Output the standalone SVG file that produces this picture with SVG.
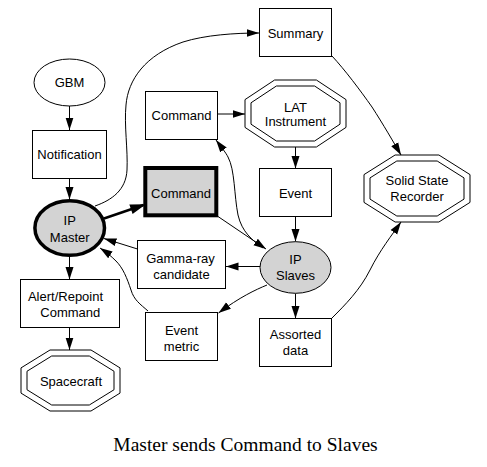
<svg xmlns="http://www.w3.org/2000/svg" width="487" height="467" viewBox="0 0 487 467">
<style>
.n{fill:#fff;stroke:#000;stroke-width:1}
.g{fill:#d3d3d3;stroke:#000;stroke-width:1}
.t{font-family:"Liberation Sans",Arial,Helvetica,sans-serif;font-size:13px;fill:#000;text-anchor:middle}
.e{fill:none;stroke:#000;stroke-width:1;marker-end:url(#ah)}
.cap{font-family:"Liberation Serif","Times New Roman",serif;font-size:19.5px;fill:#000;text-anchor:middle}
</style>
<defs>
<marker id="ah" markerUnits="userSpaceOnUse" markerWidth="13" markerHeight="9" refX="12.5" refY="4.5" orient="auto">
<path d="M0,0.5 L12.5,4.5 L0,8.5 z" fill="#000"/>
</marker>
<marker id="ahb" markerUnits="userSpaceOnUse" markerWidth="15" markerHeight="11" refX="13.5" refY="5.5" orient="auto">
<path d="M1,1.5 L13.5,5.5 L1,9.5 z" fill="#000" stroke="#000" stroke-width="1.5"/>
</marker>
</defs>
<rect width="487" height="467" fill="#fff"/>
<g id="connectors">
<path class="e" d="M69.5,106 L69.5,130"/>
<path class="e" d="M69.5,178.5 L69.5,199.5"/>
<path d="M104,218.5 L143.5,205" fill="none" stroke="#000" stroke-width="2.5" marker-end="url(#ahb)"/>
<path class="e" d="M95,206 C112,200 126,190 127,170 C128,150 124,125 126,105 C128,80 145,55 183,42 C205,35 235,33 259,33"/>
<path class="e" d="M217.5,114 L245,114"/>
<path class="e" d="M295.5,147 L295.5,168.5"/>
<path class="e" d="M295.5,216.5 L295.5,241.5"/>
<path class="e" d="M263,248 C252,240 242,232 238,215 C234,195 235,170 228,157 C226,153 222,148 216,140"/>
<path class="e" d="M218,216.5 L266,249"/>
<path class="e" d="M260,266.5 L226,266.5"/>
<path class="e" d="M137.5,249 L104,238.5"/>
<path class="e" d="M148,311 C140,304 134,300 131,290 C127,278 123,268 116,261 C111,256 106,252 100,248"/>
<path class="e" d="M267,285 C255,290 240,297 218.5,313"/>
<path class="e" d="M295.5,293.5 L295.5,318.5"/>
<path class="e" d="M332,318 C345,305 360,290 370,270 C380,250 392,235 401,222"/>
<path class="e" d="M332,56 C345,70 360,90 372,107 C383,124 394,143 401,155"/>
<path class="e" d="M69.5,257 L69.5,279.5"/>
<path class="e" d="M69.5,328 L69.5,350"/>
</g>
<g id="gbm">
<ellipse class="n" cx="69.5" cy="82.5" rx="35.5" ry="23.5"/>
<text class="t" x="69.5" y="87">GBM</text>
</g>
<g id="notification">
<rect class="n" x="32.5" y="130.5" width="74" height="48"/>
<text class="t" x="69.5" y="159">Notification</text>
</g>
<g id="ip-master">
<ellipse cx="69.7" cy="228" rx="34.8" ry="27.3" fill="#d3d3d3" stroke="#000" stroke-width="3.5"/>
<text class="t" x="69.7" y="225">IP</text>
<text class="t" x="69.7" y="241.5">Master</text>
</g>
<g id="alert">
<rect class="n" x="20.5" y="279.5" width="99" height="48"/>
<text class="t" x="65.5" y="301">Alert/Repoint</text>
<text class="t" x="70.3" y="316.5">Command</text>
</g>
<g id="spacecraft">
<polygon class="n" points="50,350 91,350 120,367.9 120,393.1 91,411 50,411 21,393.1 21,367.9"/>
<polygon class="n" points="51.7,356 89.3,356 114,371.25 114,389.75 89.3,405 51.7,405 27,389.75 27,371.25"/>
<text class="t" x="71" y="385.7">Spacecraft</text>
</g>
<g id="summary">
<rect class="n" x="259.5" y="8.5" width="72" height="48"/>
<text class="t" x="295.5" y="37.5">Summary</text>
</g>
<g id="command-upper">
<rect class="n" x="145.5" y="91.5" width="72" height="48"/>
<text class="t" x="181.5" y="120">Command</text>
</g>
<g id="lat">
<polygon class="n" points="274.6,80 316.4,80 346,99.6 346,127.4 316.4,147 274.6,147 245,127.4 245,99.6"/>
<polygon class="n" points="276.4,86 314.6,86 340,102.8 340,124.2 314.6,141 276.4,141 251,124.2 251,102.8"/>
<text class="t" x="295.5" y="111.7">LAT</text>
<text class="t" x="295.5" y="126">Instrument</text>
</g>
<g id="command-thick">
<rect x="145.3" y="168" width="71" height="47.3" fill="#d3d3d3" stroke="#000" stroke-width="4"/>
<text class="t" x="181" y="197.5">Command</text>
</g>
<g id="event">
<rect class="n" x="259.5" y="168.5" width="72" height="48"/>
<text class="t" x="295.5" y="197.5">Event</text>
</g>
<g id="ssr">
<polygon class="n" points="395.1,155 438.9,155 470,174.6 470,202.4 438.9,222 395.1,222 364,202.4 364,174.6"/>
<polygon class="n" points="396.8,161 437.2,161 464,177.9 464,199.1 437.2,216 396.8,216 370,199.1 370,177.9"/>
<text class="t" x="417" y="185">Solid State</text>
<text class="t" x="417" y="200.5">Recorder</text>
</g>
<g id="ip-slaves">
<ellipse class="g" cx="295.5" cy="267.5" rx="35.5" ry="25.8"/>
<text class="t" x="295.5" y="264">IP</text>
<text class="t" x="295.5" y="280">Slaves</text>
</g>
<g id="gamma">
<rect class="n" x="137.5" y="240.5" width="88" height="48"/>
<text class="t" x="180.5" y="263">Gamma-ray</text>
<text class="t" x="181.5" y="278.5">candidate</text>
</g>
<g id="event-metric">
<rect class="n" x="145.5" y="312.5" width="72" height="48"/>
<text class="t" x="181.5" y="335">Event</text>
<text class="t" x="181.5" y="350.5">metric</text>
</g>
<g id="assorted">
<rect class="n" x="259.5" y="318.5" width="72" height="48"/>
<text class="t" x="295.5" y="339">Assorted</text>
<text class="t" x="295.5" y="355">data</text>
</g>
<text class="cap" x="245.5" y="450.5">Master sends Command to Slaves</text>
</svg>
